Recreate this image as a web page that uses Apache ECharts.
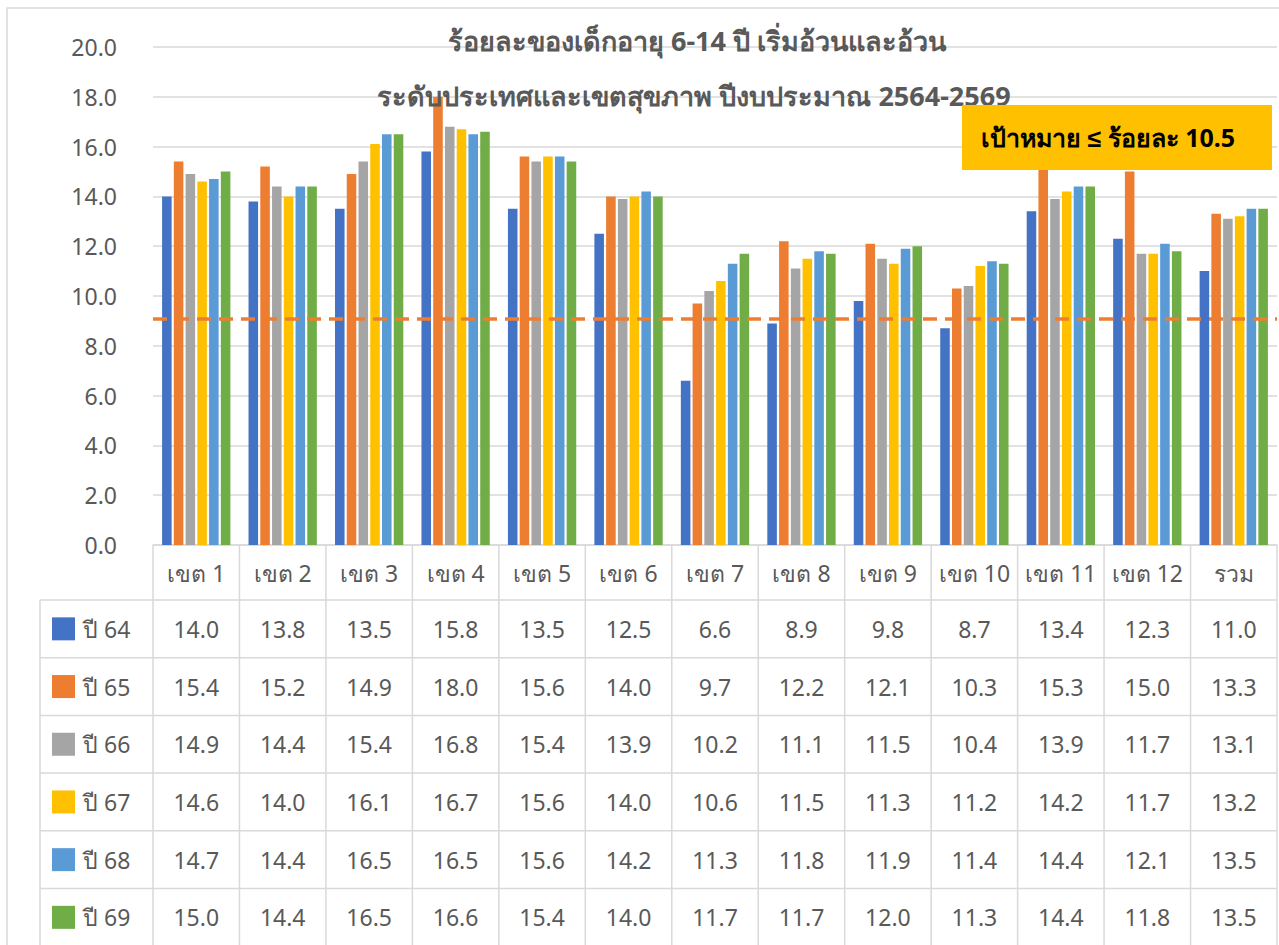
<!DOCTYPE html>
<html><head><meta charset="utf-8">
<script src="https://cdn.jsdelivr.net/npm/echarts@6/dist/echarts.min.js"></script>
<style>html,body{margin:0;padding:0;background:#fff}#c{width:1279px;height:945px}</style>
</head><body><div id="c"></div>
<script>
const categories = ['เขต 1','เขต 2','เขต 3','เขต 4','เขต 5','เขต 6','เขต 7','เขต 8','เขต 9','เขต 10','เขต 11','เขต 12','รวม'];
const seriesNames = ['ปี 64','ปี 65','ปี 66','ปี 67','ปี 68','ปี 69'];
const y64 = [14.0,13.8,13.5,15.8,13.5,12.5,6.6,8.9,9.8,8.7,13.4,12.3,11.0];
const y65 = [15.4,15.2,14.9,18.0,15.6,14.0,9.7,12.2,12.1,10.3,15.3,15.0,13.3];
const y66 = [14.9,14.4,15.4,16.8,15.4,13.9,10.2,11.1,11.5,10.4,13.9,11.7,13.1];
const y67 = [14.6,14.0,16.1,16.7,15.6,14.0,10.6,11.5,11.3,11.2,14.2,11.7,13.2];
const y68 = [14.7,14.4,16.5,16.5,15.6,14.2,11.3,11.8,11.9,11.4,14.4,12.1,13.5];
const y69 = [15.0,14.4,16.5,16.6,15.4,14.0,11.7,11.7,12.0,11.3,14.4,11.8,13.5];
const targetLineValue = 9.1;
const titleLine1 = 'ร้อยละของเด็กอายุ 6-14 ปี เริ่มอ้วนและอ้วน';
const titleLine2 = 'ระดับประเทศและเขตสุขภาพ ปีงบประมาณ 2564-2569';
const targetText = 'เป้าหมาย ≤ ร้อยละ 10.5';

const allValues = [y64,y65,y66,y67,y68,y69];
const colors = ['#4472C4','#ED7D31','#A5A5A5','#FFC000','#5B9BD5','#70AD47'];
const FONT = '"Noto Sans", Tahoma, sans-serif';
const GRIDC = '#D9D9D9';
const TXT = '#595959';

const chart = echarts.init(document.getElementById('c'), null, {renderer:'svg'});
const series = seriesNames.map((n,i)=>({
  name:n, type:'bar', data:allValues[i],
  itemStyle:{color:colors[i]},
  barGap:'23%', barCategoryGap:'21%',
  animation:false
}));
series[0].markLine = {
  silent:true, symbol:'none', animation:false,
  label:{show:false},
  lineStyle:{color:'#ED7D31', width:3.5, type:[14,8]},
  data:[{yAxis:targetLineValue}]
};
chart.setOption({
  animation:false,
  grid:{left:153, right:2, top:47, bottom:400},
  xAxis:{type:'category', data:categories,
    axisLine:{lineStyle:{color:GRIDC, width:1.5}},
    axisTick:{show:false}, axisLabel:{show:false}},
  yAxis:{type:'value', min:0, max:20, interval:2,
    axisLine:{show:false}, axisTick:{show:false},
    splitLine:{lineStyle:{color:GRIDC, width:1.5}},
    axisLabel:{formatter:v=>v.toFixed(1), color:TXT, fontSize:23, fontFamily:FONT, margin:36}},
  series:series
});

// Build title, target box and data table from the arrays
const g = [];
const topY = chart.convertToPixel({yAxisIndex:0}, 0);
const cx0 = chart.convertToPixel({xAxisIndex:0}, 0);
const cx1 = chart.convertToPixel({xAxisIndex:0}, 1);
const colW = cx1 - cx0;
const leftX = cx0 - colW/2;
const rightX = leftX + colW*categories.length;
const headH = 55, rowH = 57.7, legendLeft = 40;
const bottomY = topY + headH + rowH*seriesNames.length + 5;

g.push({type:'rect', shape:{x:7,y:8,width:1300,height:1000}, style:{fill:'none', stroke:GRIDC, lineWidth:1.5}, z:1});
g.push({type:'text', x:697, y:40, style:{text:titleLine1, fill:TXT, font:'bold 27px '+FONT, textAlign:'center', textVerticalAlign:'middle'}, z:10});
g.push({type:'text', x:694, y:95, style:{text:titleLine2, fill:TXT, font:'bold 27px '+FONT, textAlign:'center', textVerticalAlign:'middle'}, z:10});
g.push({type:'rect', shape:{x:962,y:105,width:310,height:65}, style:{fill:'#FFC000'}, z:10});
g.push({type:'text', x:1108, y:137, style:{text:targetText, fill:'#000', font:'bold 25px '+FONT, textAlign:'center', textVerticalAlign:'middle'}, z:11});

for (let c=0;c<=categories.length;c++){
  const x = leftX + c*colW;
  g.push({type:'line', shape:{x1:x,y1:topY,x2:x,y2:bottomY}, style:{stroke:GRIDC, lineWidth:1.5}, z:5});
}
g.push({type:'line', shape:{x1:legendLeft,y1:topY+headH,x2:legendLeft,y2:bottomY}, style:{stroke:GRIDC, lineWidth:1.5}, z:5});
for (let r=0;r<=seriesNames.length;r++){
  const y = topY + headH + r*rowH;
  g.push({type:'line', shape:{x1:legendLeft,y1:y,x2:rightX,y2:y}, style:{stroke:GRIDC, lineWidth:1.5}, z:5});
}
categories.forEach((c,i)=>{
  g.push({type:'text', x:leftX+(i+0.5)*colW, y:topY+headH/2, style:{text:c, fill:TXT, font:'23px '+FONT, textAlign:'center', textVerticalAlign:'middle'}, z:6});
});
seriesNames.forEach((n,r)=>{
  const yc = topY + headH + (r+0.5)*rowH;
  g.push({type:'rect', shape:{x:52,y:yc-11.5,width:23,height:23}, style:{fill:colors[r]}, z:6});
  g.push({type:'text', x:83, y:yc, style:{text:n, fill:TXT, font:'23px '+FONT, textAlign:'left', textVerticalAlign:'middle'}, z:6});
  allValues[r].forEach((v,i)=>{
    g.push({type:'text', x:leftX+(i+0.5)*colW, y:yc, style:{text:v.toFixed(1), fill:TXT, font:'23px '+FONT, textAlign:'center', textVerticalAlign:'middle'}, z:6});
  });
});
chart.setOption({graphic:g});
</script></body></html>
